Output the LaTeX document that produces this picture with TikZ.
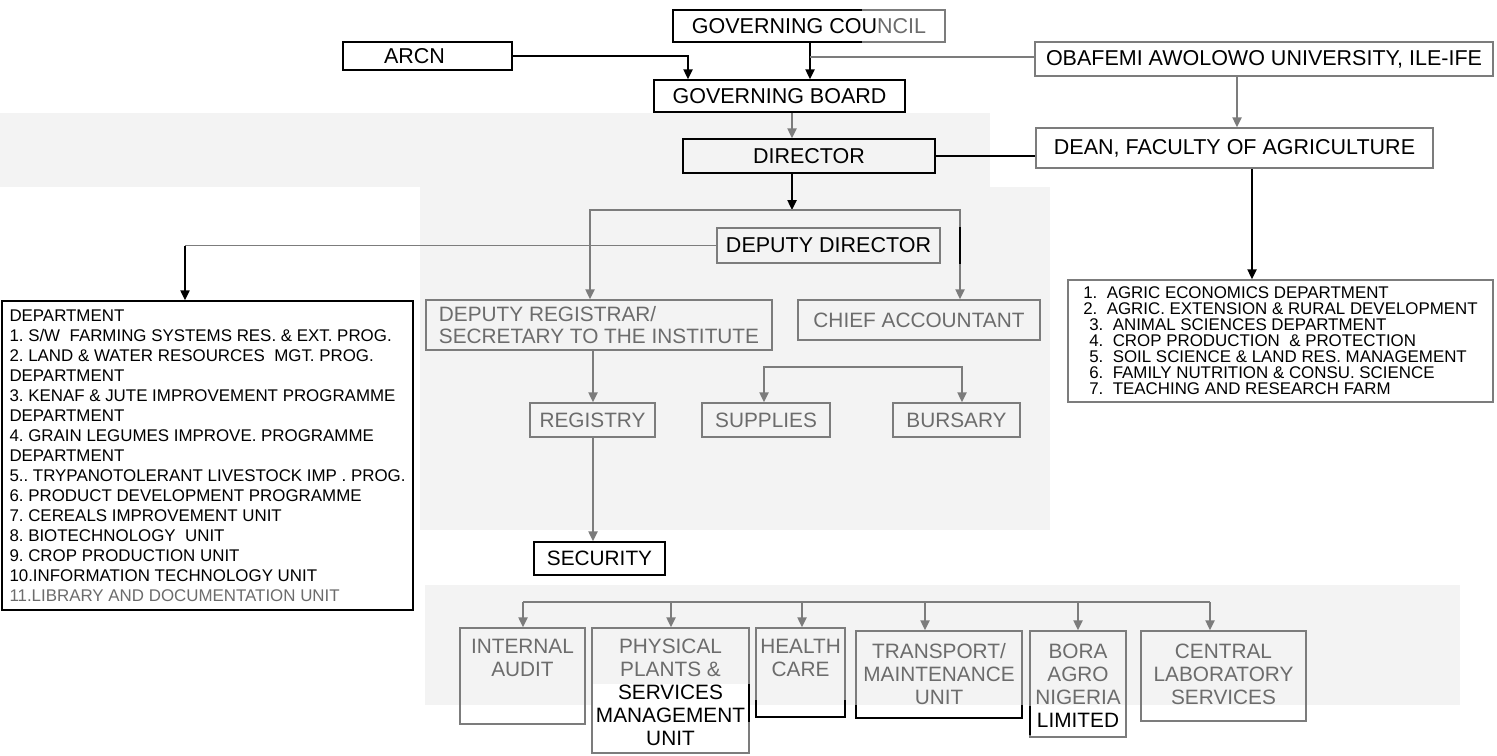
\documentclass[tikz,border=0pt]{standalone}
\usepackage{fontspec}
\setmainfont{Liberation Sans}
\usetikzlibrary{arrows.meta}
\definecolor{gl}{HTML}{7C7C7C}
\definecolor{gt}{HTML}{6C6C6C}
\definecolor{bgc}{HTML}{F3F3F3}
\begin{document}
\frenchspacing
\begin{tikzpicture}[x=0.5pt,y=-0.5pt,
  wh/.style 2 args={minimum width=#1*0.5pt, minimum height=#2*0.5pt},
  box/.style={draw=black, line width=0.75pt, inner sep=0pt, text=black, font=\fontsize{10.75}{13}\selectfont},
  gbox/.style={box, draw=gl},
  mbox/.style={gbox, text=gt, font=\fontsize{10.4}{11}\selectfont},
  btxt/.style={inner sep=0pt, align=center, text=gt, font=\fontsize{10.4}{11.5}\selectfont, anchor=north},
  con/.style={line width=0.9pt, draw=black},
  gcon/.style={con, draw=gl},
  tip/.style={-{Triangle[length=5pt,width=4.6pt]}},
  bgp/.style={fill=bgc, draw=none}
]
\useasboundingbox (0,0) rectangle (1497,755);
\fill[white] (0,0) rectangle (1497,755);
% scan background patches
\fill[bgp] (0,113) rectangle (990,187);
\fill[bgp] (420,187) rectangle (1050,530);
\fill[bgp] (425,585) rectangle (1460,705);
\fill[white] (593,684) rectangle (748,753);
\fill[white] (1032,706) rectangle (1124,735);

% ---- top level
\node[gbox, wh={272}{32}] (gc) at (809,26) {GOVERNING COU{\color{gt}NCIL}};
\draw[black, line width=0.75pt] (862,10) -- (673,10) -- (673,42) -- (862,42);
\node[box, wh={169}{28}] (arcn) at (427.5,56) {ARCN\hspace*{13pt}};
\node[gbox, wh={458}{34}] (oau) at (1264,59) {OBAFEMI AWOLOWO UNIVERSITY, ILE-IFE};
\node[box, wh={251}{32}] (gb) at (779.5,96) {GOVERNING BOARD};
\node[box, wh={252}{34}] (dir) at (809,156) {DIRECTOR};
\node[gbox, wh={397}{40}] (dean) at (1234.5,148) {DEAN, FACULTY OF AGRICULTURE};
\node[gbox, wh={223}{35}] (dd) at (828.5,245.5) {DEPUTY DIRECTOR};
\node[mbox, wh={346}{50}, align=left, font=\fontsize{10.4}{11}\selectfont] (dr) at (599,325) {DEPUTY REGISTRAR/\\SECRETARY TO THE INSTITUTE};
\node[mbox, wh={242}{40}] (ca) at (919,320) {CHIEF ACCOUNTANT};
\node[mbox, wh={125}{34}] (reg) at (592.5,420) {REGISTRY};
\node[mbox, wh={128}{34}] (sup) at (766,420) {SUPPLIES};
\node[mbox, wh={127}{34}] (bur) at (956.5,420) {BURSARY};
\node[box, fill=white, wh={131}{33}, font=\fontsize{10.4}{11}\selectfont] (sec) at (599.5,558.5) {SECURITY};

% ---- left list
\node[box, fill=white, wh={411}{309}, align=left,
      font=\fontsize{8.45}{10}\selectfont] (ll) at (207.5,455.5)
{DEPARTMENT\\
1. S/W\ \ FARMING SYSTEMS RES. \& EXT. PROG.\\
2. LAND \& WATER RESOURCES\ \ MGT. PROG.\\
DEPARTMENT\\
3. KENAF \& JUTE IMPROVEMENT PROGRAMME\\
DEPARTMENT\\
4. GRAIN LEGUMES IMPROVE. PROGRAMME\\
DEPARTMENT\\
5.. TRYPANOTOLERANT LIVESTOCK IMP . PROG.\\
6. PRODUCT DEVELOPMENT PROGRAMME\\
7. CEREALS IMPROVEMENT UNIT\\
8. BIOTECHNOLOGY\ \ UNIT\\
9. CROP PRODUCTION UNIT\\
10.INFORMATION TECHNOLOGY UNIT\\
{\color{gt}11.LIBRARY AND DOCUMENTATION UNIT}};

% ---- right list
\node[gbox, wh={425}{122}, align=left,
      font=\fontsize{8.45}{8}\selectfont] (rl) at (1280.5,341)
{1.\ \ AGRIC ECONOMICS DEPARTMENT\\
2.\ \ AGRIC. EXTENSION \& RURAL DEVELOPMENT\\
\hspace*{3pt}3.\ \ ANIMAL SCIENCES DEPARTMENT\\
\hspace*{3pt}4.\ \ CROP PRODUCTION\ \ \& PROTECTION\\
\hspace*{3pt}5.\ \ SOIL SCIENCE \& LAND RES. MANAGEMENT\\
\hspace*{3pt}6.\ \ FAMILY NUTRITION \& CONSU. SCIENCE\\
\hspace*{3pt}7.\ \ TEACHING AND RESEARCH FARM};

% ---- bottom row
\node[gbox, wh={125}{96}] (ia) at (522.5,676) {};
\node[gbox, wh={157}{125}] (pp) at (670.5,690.5) {};
\node[gbox, wh={89}{89}] (hc) at (800.5,672.5) {};
\node[gbox, wh={166}{87}] (tm) at (939,674.5) {};
\node[gbox, wh={96}{106}] (bo) at (1078,684) {};
\node[gbox, wh={165}{90}] (cl) at (1223.5,676) {};
\node[btxt] (iat) at ([yshift=-6pt]ia.north) {INTERNAL\\AUDIT};
\node[btxt] (ppt) at ([yshift=-5.5pt]pp.north) {PHYSICAL\\PLANTS \&\\{\color{black}SERVICES}\\{\color{black}MANAGEMENT}\\{\color{black}UNIT}};
\node[btxt] (hct) at ([yshift=-6pt]hc.north) {HEALTH\\CARE};
\node[btxt] (tmt) at ([yshift=-6.5pt]tm.north) {TRANSPORT/\\MAINTENANCE\\UNIT};
\node[btxt] (bot) at ([yshift=-6.5pt]bo.north) {BORA\\AGRO\\NIGERIA\\{\color{black}LIMITED}};
\node[btxt] (clt) at ([yshift=-6.5pt]cl.north) {CENTRAL\\LABORATORY\\SERVICES};
\draw[black, line width=0.75pt] (756,700) -- (756,717) -- (845,717) -- (845,700);
\draw[black, line width=0.75pt] (856,705) -- (856,718) -- (1022,718) -- (1022,705);
\draw[black, line width=0.75pt] (1030,706) -- (1030,735);
\draw[black, line width=0.75pt] (749,684) -- (749,722);

% ---- coordinates
\coordinate (ax) at (688,0);
\coordinate (gx) at (810,0);
\coordinate (j1) at (810,57);
\coordinate (dgx) at (792,0);
\coordinate (hl) at (792,210);
\coordinate (hlL) at (590,210);
\coordinate (hlR) at (960,210);
\coordinate (lx) at (185,0);
\coordinate (ox) at (1237,0);
\coordinate (dx) at (1252,0);
\coordinate (rx) at (593,0);
\coordinate (sbL) at (764,367);
\coordinate (sbR) at (962,367);
\coordinate (b1) at (523,602);
\coordinate (b2) at (671,602);
\coordinate (b3) at (802,602);
\coordinate (b4) at (925,602);
\coordinate (b5) at (1078,602);
\coordinate (b6) at (1210,602);

% ---- connectors
\draw[con,tip] (arcn.east) -| (ax |- gb.north);
\draw[con,tip] (gx |- gc.south) -- (gx |- gb.north);
\draw[gcon] (j1) -- (j1 -| oau.west);
\draw[gcon,tip] (dgx |- gb.south) -- (dgx |- dir.north);
\draw[con] (dir.east) -- (dir.east -| dean.west);
\draw[gcon,tip] (ox |- oau.south) -- (ox |- dean.north);
\draw[con,tip] (dx |- dean.south) -- (dx |- rl.north);
\draw[con,tip] (dgx |- dir.south) -- (hl);
\draw[gcon,tip] (hlR) -- (hlL) -- (hlL |- dr.north);
\draw[gcon,tip] (hlL) -- (hlR) -- (hlR |- ca.north);
\draw[con] (hlR |- dd.north) -- (hlR |- dd.south);
\draw[gcon] (dd.west) -- (dd.west -| lx);
\draw[con,tip] (dd.west -| lx) -- (lx |- ll.north);
\draw[gcon,tip] (rx |- dr.south) -- (rx |- reg.north);
\draw[gcon,tip] (rx |- reg.south) -- (rx |- sec.north);
\draw[gcon,tip] (sbR) -- (sbL) -- (sbL |- sup.north);
\draw[gcon,tip] (sbL) -- (sbR) -- (sbR |- bur.north);
\draw[gcon] (b1) -- (b6);
\draw[gcon,tip] (b1) -- (b1 |- ia.north);
\draw[gcon,tip] (b2) -- (b2 |- pp.north);
\draw[gcon,tip] (b3) -- (b3 |- hc.north);
\draw[gcon,tip] (b4) -- (b4 |- tm.north);
\draw[gcon,tip] (b5) -- (b5 |- bo.north);
\draw[gcon,tip] (b6) -- (b6 |- cl.north);
\end{tikzpicture}
\end{document}
